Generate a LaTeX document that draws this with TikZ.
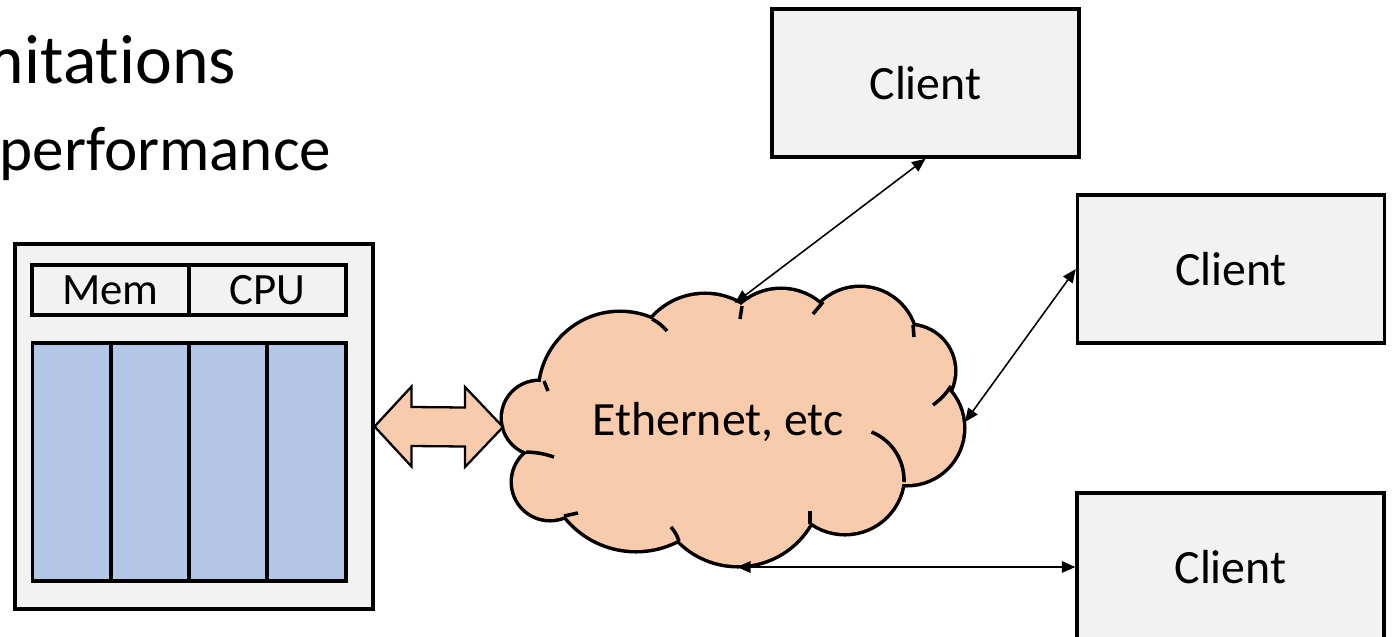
\documentclass[tikz,border=0pt]{standalone}
\usepackage{fontspec}
\setmainfont[Ligatures=NoCommon]{Carlito}
\usetikzlibrary{arrows.meta,calc}

\definecolor{panelgray}{HTML}{F2F2F2}
\definecolor{slotblue}{HTML}{B4C7E7}
\definecolor{netorange}{HTML}{F8CBAD}

\newcommand\headingsize{\fontsize{39.7}{46}\selectfont}
\newcommand\bulletsize{\fontsize{35.9}{42}\selectfont}
\newcommand\labelsize{\fontsize{27.2}{32}\selectfont}
\newcommand\cellsize{\fontsize{25.5}{30}\selectfont}

\begin{document}
\begin{tikzpicture}[x=0.02cm, y=-0.02cm,
  box/.style={draw=black, line width=2pt, fill=panelgray, inner sep=0pt},
  clientbox/.style={box, minimum width=6.14cm, minimum height=2.96cm, font=\labelsize},
  headbox/.style={box, minimum width=3.14cm, minimum height=1.0cm, font=\cellsize},
  slot/.style={draw=black, line width=2pt, fill=slotblue, inner sep=0pt,
    minimum width=1.57cm, minimum height=4.76cm},
  link/.style={{Triangle[length=0.27cm,width=0.23cm]}-{Triangle[length=0.27cm,width=0.23cm]},
    line width=0.9pt},
  blockarrow/.style={draw=black, line width=1.3pt, fill=netorange, line join=miter},
  cloudrim/.style={draw=black, line width=4pt},
  cloudseam/.style={draw=black, line width=2pt},
  plain/.style={inner sep=0pt, outer sep=0pt}
]
\useasboundingbox (0,0) rectangle (1396,636);
\clip (0,0) rectangle (1396,636);

% slide text
\node[plain, anchor=base east, font=\headingsize] (heading) at (236,83) {mitations};
\node[plain, anchor=base east, font=\bulletsize] (bullet) at (331,170) {performance};

% server with memory / cpu header and four slots
\node[box, line width=1.8pt, minimum width=7.16cm, minimum height=7.30cm] (server) at (194,426.5) {};
\node[headbox] (mem) at (110.5,290) {Mem};
\node[headbox] (cpu) at (267.5,290) {CPU};
\node[slot] (s1) at (71.5,462) {};
\node[slot] (s2) at (150,462) {};
\node[slot] (s3) at (228,462) {};
\node[slot] (s4) at (306.5,462) {};

% network cloud: union of lobes with an outline, then the inner seams
\foreach \cx/\cy/\rad in {539/418/36, 550/482/37, 636/460/90, 738/482/83, 845/475/58,
                          907/428/56, 909/371/45, 860/344/56, 781/350/60, 705/365/70, 620/393/80}
  \draw[cloudrim] (\cx,\cy) circle[radius=\rad];
\foreach \cx/\cy/\rad in {539/418/36, 550/482/37, 636/460/90, 738/482/83, 845/475/58,
                          907/428/56, 909/371/45, 860/344/56, 781/350/60, 705/365/70, 620/393/80}
  \fill[netorange] (\cx,\cy) circle[radius=\rad];
\fill[netorange] (740,420) ellipse[x radius=160, y radius=90];

\draw[cloudseam] (544,381) -- (548,391);
\draw[cloudseam] (652,319) to[bend left=10] (667,331);
\draw[cloudseam] (742,306) -- (740,319);
\draw[cloudseam] (823,302) -- (813,314);
\draw[cloudseam] (913,325) -- (914,337);
\draw[cloudseam] (951,386) to[bend left=10] (933,405);
\draw[cloudseam] (904,482) arc[start angle=2, end angle=-68, radius=52];
\draw[cloudseam] (810,524) -- (810,511);
\draw[cloudseam] (679,541) to[bend right=10] (671,527);
\draw[cloudseam] (564,516) -- (578,513);
\draw[cloudseam] (526,452) to[bend left=8] (554,457);

\node[plain, font=\labelsize] (net) at (718,422) {Ethernet, etc};

\coordinate (net-w) at (503,427);
\coordinate (net-n) at (735,303);
\coordinate (net-e) at (965,422);
\coordinate (net-s) at (737,567);

% clients
\node[clientbox] (c1) at (925.5,83) {Client};
\node[clientbox] (c2) at (1231,269) {Client};
\node[clientbox] (c3) at (1230.5,567) {Client};

% server <-> network block arrow
\draw[blockarrow] (server.east) -- ++(37,-40) -- ++(0,20.5)
  -- ($(net-w)+(-38,-19.5)$) -- ++(0,-20.5) -- (net-w) -- ++(-38,40) -- ++(0,-20.5)
  -- ($(server.east)+(37,19.5)$) -- ++(0,20.5) -- cycle;

% network <-> client links
\draw[link] (net-n) -- (c1.south);
\draw[link] (net-e) -- (c2.west);
\draw[link] (net-s) -- (c3.west);
\end{tikzpicture}
\end{document}
